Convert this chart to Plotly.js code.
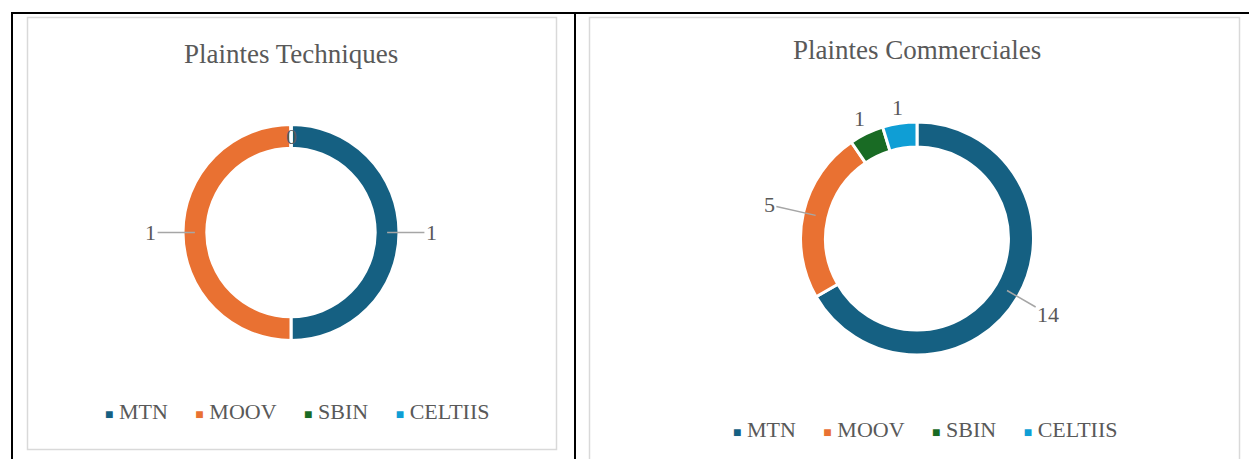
<!DOCTYPE html>
<html><head><meta charset="utf-8">
<script src="https://cdn.plot.ly/plotly-3.0.1.min.js"></script>
<style>html,body{margin:0;padding:0;background:#fff}#chart{width:1249px;height:459px}</style>
</head><body><div id="chart"></div><script>
const categories = ['MTN', 'MOOV', 'SBIN', 'CELTIIS'];
const colors = ['#156082', '#E97132', '#196B24', '#0F9ED5'];
const techValues = [1, 1, 0, 0];
const commValues = [14, 5, 1, 1];
const titles = ['Plaintes Techniques', 'Plaintes Commerciales'];

const W = 1249, H = 459;
const px = x => x / W, py = y => 1 - y / H;
const FONT = 'Liberation Serif, Times New Roman, serif';
const GREY = '#595959';
const panels = [
  {cx: 291, cy: 232.5, r: 108, hole: 0.78, values: techValues, title: titles[0], ty: 54, lx: 297, ly: 411},
  {cx: 917, cy: 238.5, r: 116.5, hole: 0.785, values: commValues, title: titles[1], ty: 50, lx: 925, ly: 429}
];

const traces = [], annotations = [];
const ann = o => Object.assign({xref: 'paper', yref: 'paper', xanchor: 'center', yanchor: 'middle'}, o);
panels.forEach(p => {
  traces.push({
    type: 'pie', values: p.values, labels: categories,
    marker: {colors: colors, line: {color: '#ffffff', width: 3}},
    hole: p.hole, sort: false, direction: 'clockwise', rotation: 0,
    textinfo: 'none', hoverinfo: 'label+value', showlegend: false,
    domain: {x: [px(p.cx - p.r), px(p.cx + p.r)], y: [py(p.cy + p.r), py(p.cy - p.r)]}
  });
  annotations.push(ann({x: px(p.cx), y: py(p.ty), text: p.title,
    showarrow: false, font: {family: FONT, size: 27, color: GREY}}));
  const total = p.values.reduce((a, b) => a + b, 0);
  let cum = 0; const seen = {};
  p.values.forEach((v, i) => {
    const th = 2 * Math.PI * (cum + v / 2) / total; cum += v;
    const frac = v / total;
    const lr = v === 0 ? 0.89 : (frac > 0.1 ? 1.3 : 1.14);
    const tx = p.cx + lr * p.r * Math.sin(th), ty = p.cy - lr * p.r * Math.cos(th);
    const key = Math.round(tx) + ',' + Math.round(ty);
    if (seen[key]) return; seen[key] = true;
    const font = {family: FONT, size: 22, color: GREY};
    if (frac > 0.1) {
      const mr = p.r * (1 + p.hole) / 2;
      const sx = p.cx + mr * Math.sin(th), sy = p.cy - mr * Math.cos(th);
      annotations.push(ann({x: px(sx), y: py(sy), text: String(v),
        showarrow: true, arrowhead: 0, arrowwidth: 1.5, arrowcolor: '#a6a6a6', standoff: 0,
        ax: tx - sx, ay: ty - sy, font: font}));
    } else {
      annotations.push(ann({x: px(tx), y: py(ty), text: String(v), showarrow: false, font: font}));
    }
  });
  const sp = '\u00a0';
  const legendText = categories.map((c, i) =>
    '<span style="color:' + colors[i] + ';font-size:14px">■</span>' + sp + c).join(sp + sp + sp + sp + sp);
  annotations.push(ann({x: px(p.lx), y: py(p.ly), text: legendText,
    showarrow: false, font: {family: FONT, size: 22, color: GREY}}));
});

const line = (x0, y0, x1, y1, color, width) => ({type: 'line', xref: 'paper', yref: 'paper',
  x0: px(x0), y0: py(y0), x1: px(x1), y1: py(y1), line: {color: color, width: width}});
const rect = (x0, y0, x1, y1) => ({type: 'rect', xref: 'paper', yref: 'paper',
  x0: px(x0), y0: py(y0), x1: px(x1), y1: py(y1), line: {color: '#d9d9d9', width: 1.5}, layer: 'below'});
const shapes = [
  rect(27.5, 17.5, 556.5, 449.5),
  rect(589.5, 17.5, 1239.5, 470),
  line(11, 13, 1249, 13, '#000', 2),
  line(12, 13, 12, 470, '#000', 2),
  line(575, 13, 575, 470, '#000', 2)
];

Plotly.newPlot('chart', traces, {
  width: W, height: H, margin: {l: 0, r: 0, t: 0, b: 0},
  paper_bgcolor: '#fff', showlegend: false, annotations: annotations, shapes: shapes
}, {displayModeBar: false, staticPlot: true});
</script></body></html>
